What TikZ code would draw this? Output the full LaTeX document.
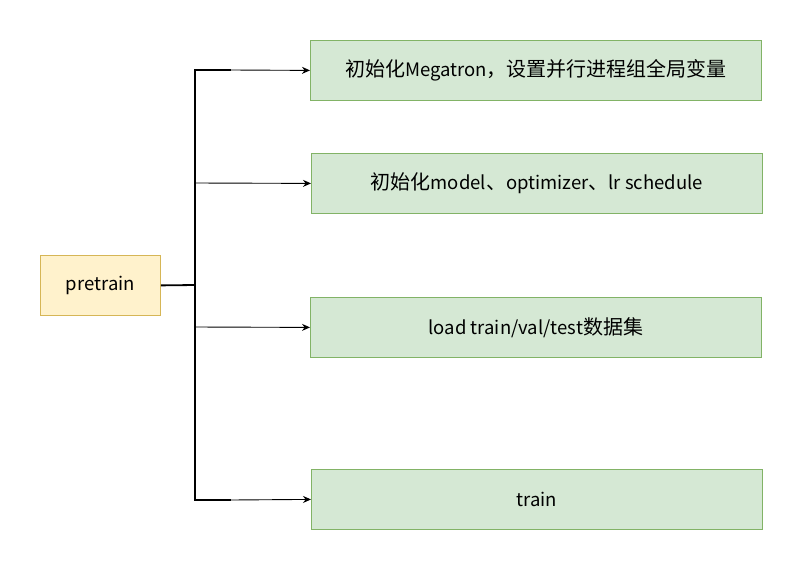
\documentclass[tikz,border=0pt]{standalone}
\usepackage{fontspec}
\setmainfont{Noto Sans CJK SC}
\usetikzlibrary{arrows.meta,positioning}

\newcommand\zh[1]{{\fontsize{20}{22}\selectfont #1}}

\tikzset{
  stepbox/.style={draw=stepdraw, fill=stepfill, line width=0.8pt,
    minimum width=451pt, minimum height=60pt, anchor=north west, inner sep=0pt},
  rootbox/.style={draw=rootdraw, fill=rootfill, line width=0.8pt,
    minimum width=120pt, minimum height=60pt, anchor=north west, inner sep=0pt},
  link/.style={-{Stealth[length=8pt,width=7pt]}, line width=0.9pt},
  brace/.style={line width=1.8pt}
}
\definecolor{stepfill}{HTML}{D5E8D4}
\definecolor{stepdraw}{HTML}{82B366}
\definecolor{rootfill}{HTML}{FFF2CC}
\definecolor{rootdraw}{HTML}{D6B656}

\begin{document}
\begin{tikzpicture}[x=1pt,y=-1pt,font=\fontsize{18.5}{22}\selectfont]
\useasboundingbox (0,0) rectangle (802,570);

\node[rootbox] (pretrain) at (40,255) {pretrain};
\node[stepbox] (init) at (310,40) {\zh{初始化}Megatron\zh{，设置并行进程组全局变量}};
\node[stepbox] (model) at (311,153) {\zh{初始化}model\zh{、}optimizer\zh{、}lr schedule};
\node[stepbox] (data) at (310,297) {load train/val/test\zh{数据集}};
\node[stepbox] (train) at (311,469) {train};

% bracket
\coordinate (top) at (231,70);
\coordinate (bot) at (231,500);
\coordinate (mid) at (195,285);
\coordinate (b2) at (195,183);
\coordinate (b3) at (195,327);
\draw[brace] (pretrain.east) -- (mid);
\draw[brace] (top) -| (mid) |- (bot);

\draw[link] (top) -- (init.west);
\draw[link] (b2) -- (model.west);
\draw[link] (b3) -- (data.west);
\draw[link] (bot) -- (train.west);
\end{tikzpicture}
\end{document}
